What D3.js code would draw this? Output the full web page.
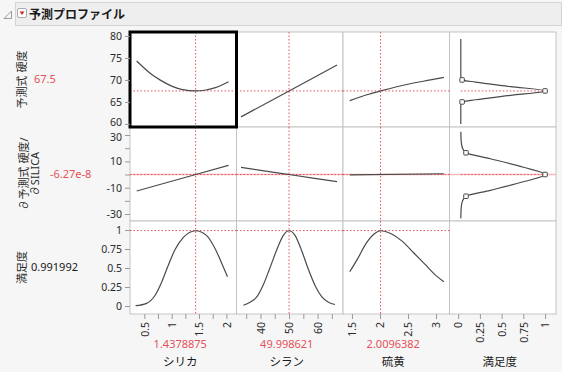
<!DOCTYPE html>
<html>
<head>
<meta charset="utf-8">
<script src="https://cdn.jsdelivr.net/npm/d3@7"></script>
<style>
  body { margin: 0; background: #f6f6f6; }
  svg { display: block; }
</style>
</head>
<body>
<script>
// factors and current settings
const factors = ['シリカ', 'シラン', '硫黄', '満足度']
const current = [1.4378875, 49.998621, 2.0096382]
const currentLabels = ['1.4378875', '49.998621', '2.0096382']

// responses (rows)
const rowTitles = [['予測式 硬度'], ['∂予測式 硬度/', '∂SILICA'], ['満足度']]
const rowValues = [67.5, 0, 0.991992]
const rowValueLabels = ['67.5', '-6.27e-8', '0.991992']

// axis ticks
const xTicks = [[0.5, 1, 1.5, 2], [40, 50, 60], [1.5, 2, 2.5, 3], [0, 0.25, 0.5, 0.75, 1]]
const xMinor = [[0.75, 1.25, 1.75], [35, 45, 55, 65], [], []]
const yTicks = [[60, 65, 70, 75, 80], [-30, -10, 10, 30], [0, 0.25, 0.5, 0.75, 1]]
const yMinor = [[], [-20, 0, 20], []]
const xDomains = [[0.238, 2.185], [31.6, 68.9], [1.34, 3.24], [-0.1, 1.126]]
const yDomains = [[59.3, 80.9], [-35.3, 36.1], [-0.105, 1.118]]

// profile traces: [factor, response]
const hardSilica = [[0.36, 74.3], [0.6, 71.6], [0.8, 69.9], [1.0, 68.6], [1.2, 67.8], [1.44, 67.5], [1.6, 67.65], [1.8, 68.25], [2.04, 69.6]]
const hardSilane = [[33.2, 61.6], [50, 67.5], [66.8, 73.4]]
const hardSulfur = [[1.46, 65.3], [1.8, 66.75], [2.01, 67.5], [2.3, 68.45], [2.6, 69.3], [2.9, 70.0], [3.14, 70.6]]
const derivSilica = [[0.36, -12.5], [1.44, 0], [2.04, 7.0]]
const derivSilane = [[33.2, 5.4], [50, 0], [66.8, -5.4]]
const derivSulfur = [[1.46, -0.3], [3.14, 0.6]]
const desSilica = [[0.34, 0.004], [0.54, 0.035], [0.7, 0.145], [0.82, 0.32], [0.94, 0.54], [1.06, 0.74], [1.21, 0.9], [1.44, 0.99], [1.64, 0.925], [1.79, 0.76], [1.94, 0.52], [2.02, 0.385]]
const desSilane = [[34.0, 0.01], [36.3, 0.05], [38.7, 0.12], [41.0, 0.28], [43.3, 0.5], [45.7, 0.74], [48.0, 0.93], [50, 0.99], [52.1, 0.93], [54.5, 0.72], [56.8, 0.48], [59.1, 0.27], [61.5, 0.12], [63.8, 0.05], [66.1, 0.02]]
const desSulfur = [[1.46, 0.45], [1.6, 0.62], [1.75, 0.82], [1.9, 0.95], [2.01, 0.99], [2.2, 0.95], [2.4, 0.85], [2.6, 0.7], [2.8, 0.55], [3.0, 0.4], [3.14, 0.32]]

// desirability functions: [response, desirability]
const desHard = [[60.0, 0.03], [64.3, 0.03], [64.8, 0.035], [65.0, 0.045], [65.5, 0.2], [66.5, 0.6], [67.5, 1.0], [68.5, 0.6], [69.5, 0.2], [70.0, 0.045], [70.2, 0.035], [70.7, 0.03], [79.3, 0.03]]
const hardMarkers = [[65.0, 0.045], [67.5, 1.0], [70.0, 0.045]]
const desDeriv = [[-33.3, 0.03], [-25, 0.035], [-20, 0.05], [-16.5, 0.09], [-12, 0.37], [-5.5, 0.75], [0, 1.0], [5.5, 0.75], [12, 0.37], [16.5, 0.09], [20, 0.05], [25, 0.035], [32.5, 0.03]]
const derivMarkers = [[-16.5, 0.09], [0, 1.0], [16.5, 0.09]]

const profiles = [
  [hardSilica, hardSilane, hardSulfur],
  [derivSilica, derivSilane, derivSulfur],
  [desSilica, desSilane, desSulfur]
]
const desFunctions = [desHard, desDeriv]
const desMarkers = [hardMarkers, derivMarkers]

const FONT = '"Noto Sans", "Noto Sans CJK JP", sans-serif'
const RED = '#e4515a'
const width = 562
const height = 372
const colEdges = [130, 236.5, 343, 449.5, 556]
const rowEdges = [32, 127, 221, 314]

const svg = d3.select('body').append('svg')
  .attr('width', width)
  .attr('height', height)
  .style('font-family', FONT)

svg.append('rect')
  .attr('width', width).attr('height', height)
  .attr('fill', '#f6f6f6')

// header bar
svg.append('rect')
  .attr('x', 15.5).attr('y', 2.5)
  .attr('width', 546).attr('height', 23)
  .attr('fill', '#eeeeee')
  .attr('stroke', '#d4d4d4')
svg.append('path')
  .attr('d', 'M4,18.5 L11.5,18.5 L11.5,11 Z')
  .attr('fill', 'none')
  .attr('stroke', '#999')
svg.append('rect')
  .attr('x', 17.5).attr('y', 8.5)
  .attr('width', 9).attr('height', 9).attr('rx', 1.5)
  .attr('fill', '#fff')
  .attr('stroke', '#aaa')
svg.append('path')
  .attr('d', 'M19.5,11.5 L24.5,11.5 L22,15 Z')
  .attr('fill', '#d42a2a')
svg.append('text')
  .attr('x', 29).attr('y', 19)
  .attr('font-size', 12)
  .attr('font-weight', 'bold')
  .attr('fill', '#1a1a1a')
  .text('予測プロファイル')

const xScales = xDomains.map((dom, c) => d3.scaleLinear().domain(dom).range([colEdges[c], colEdges[c + 1]]))
const yScales = yDomains.map((dom, r) => d3.scaleLinear().domain(dom).range([rowEdges[r + 1], rowEdges[r]]))

// cells
for (let r = 0; r < 3; r++) {
  for (let c = 0; c < 4; c++) {
    svg.append('rect')
      .attr('x', colEdges[c]).attr('y', rowEdges[r])
      .attr('width', colEdges[c + 1] - colEdges[c])
      .attr('height', rowEdges[r + 1] - rowEdges[r])
      .attr('fill', '#fff')
      .attr('stroke', '#c4c4c4')
  }
}

// zero line of the derivative row
svg.append('line')
  .attr('x1', colEdges[0]).attr('x2', colEdges[4])
  .attr('y1', yScales[1](0)).attr('y2', yScales[1](0))
  .attr('stroke', '#f7b9bd')
  .attr('stroke-width', 1.5)

// current value guides
const dotted = (sel) => sel.attr('stroke', RED).attr('stroke-width', 1).attr('stroke-dasharray', '1.5,2')
for (let r = 0; r < 3; r++) {
  for (let c = 0; c < 3; c++) {
    const x = xScales[c], y = yScales[r]
    svg.append('line')
      .attr('x1', x(current[c])).attr('x2', x(current[c]))
      .attr('y1', rowEdges[r]).attr('y2', rowEdges[r + 1])
      .call(dotted)
    svg.append('line')
      .attr('x1', colEdges[c]).attr('x2', colEdges[c + 1])
      .attr('y1', y(rowValues[r])).attr('y2', y(rowValues[r]))
      .call(dotted)
  }
}
for (let r = 0; r < 2; r++) {
  svg.append('line')
    .attr('x1', xScales[3](0.03)).attr('x2', xScales[3](1))
    .attr('y1', yScales[r](rowValues[r])).attr('y2', yScales[r](rowValues[r]))
    .call(dotted)
}

// profile traces
for (let r = 0; r < 3; r++) {
  for (let c = 0; c < 3; c++) {
    const line = d3.line()
      .x((d) => xScales[c](d[0]))
      .y((d) => yScales[r](d[1]))
      .curve(d3.curveMonotoneX)
    svg.append('path')
      .datum(profiles[r][c])
      .attr('d', line)
      .attr('fill', 'none')
      .attr('stroke', '#4a4a4a')
      .attr('stroke-width', 1.2)
  }
}

// desirability functions
for (let r = 0; r < 2; r++) {
  const line = d3.line()
    .x((d) => xScales[3](d[1]))
    .y((d) => yScales[r](d[0]))
    .curve(d3.curveMonotoneY)
  const pts = desFunctions[r].slice().sort((a, b) => b[0] - a[0])
  svg.append('path')
    .datum(pts)
    .attr('d', line)
    .attr('fill', 'none')
    .attr('stroke', '#4a4a4a')
    .attr('stroke-width', 1.2)
  svg.selectAll(null).data(desMarkers[r])
    .enter().append('rect')
      .attr('x', (d) => xScales[3](d[1]) - 2.25)
      .attr('y', (d) => yScales[r](d[0]) - 2.25)
      .attr('width', 4.5).attr('height', 4.5).attr('rx', 0.7)
      .attr('fill', '#fff')
      .attr('stroke', '#444')
      .attr('stroke-width', 1)
}

// selected cell
svg.append('rect')
  .attr('x', colEdges[0]).attr('y', rowEdges[0])
  .attr('width', colEdges[1] - colEdges[0])
  .attr('height', rowEdges[1] - rowEdges[0])
  .attr('fill', 'none')
  .attr('stroke', '#000')
  .attr('stroke-width', 3)

const styleAxis = (g) => {
  g.select('.domain').remove()
  g.attr('font-family', FONT).attr('font-size', 10.5)
  g.selectAll('line').attr('stroke', '#9a9a9a')
  g.selectAll('text').attr('fill', '#2b2b2b')
}

// y axes; the labels next to a row border are nudged apart a little
const yNudge = [(d) => d === 60 ? -1.8 : 0, (d) => d === 30 ? 1.8 : 0, () => 0]
for (let r = 0; r < 3; r++) {
  svg.append('g')
    .attr('transform', `translate(${colEdges[0]},0)`)
    .call(d3.axisLeft(yScales[r]).tickValues(yTicks[r]).tickSize(5).tickPadding(3).tickFormat(String))
    .call(styleAxis)
    .selectAll('text')
      .attr('y', yNudge[r])
  svg.append('g')
    .attr('transform', `translate(${colEdges[0]},0)`)
    .call(d3.axisLeft(yScales[r]).tickValues(yMinor[r]).tickSize(5).tickFormat(''))
    .call(styleAxis)
}

// x axes with rotated labels
for (let c = 0; c < 4; c++) {
  svg.append('g')
    .attr('transform', `translate(0,${rowEdges[3]})`)
    .call(d3.axisBottom(xScales[c]).tickValues(xTicks[c]).tickSize(5).tickFormat(String))
    .call(styleAxis)
    .selectAll('text')
      .attr('transform', 'rotate(-90)')
      .attr('text-anchor', 'end')
      .attr('x', -8)
      .attr('y', 0)
      .attr('dy', '0.35em')
  svg.append('g')
    .attr('transform', `translate(0,${rowEdges[3]})`)
    .call(d3.axisBottom(xScales[c]).tickValues(xMinor[c]).tickSize(5).tickFormat(''))
    .call(styleAxis)
}

// factor values and names
const colCenter = (c) => (colEdges[c] + colEdges[c + 1]) / 2 - 3
svg.selectAll('.factor-value').data(currentLabels)
  .enter().append('text')
    .attr('x', (d, i) => colCenter(i))
    .attr('y', 348)
    .attr('text-anchor', 'middle')
    .attr('font-size', 11)
    .attr('fill', RED)
    .text((d) => d)
svg.selectAll('.factor-name').data(factors)
  .enter().append('text')
    .attr('x', (d, i) => colCenter(i))
    .attr('y', 366)
    .attr('text-anchor', 'middle')
    .attr('font-size', 11.5)
    .attr('fill', '#1a1a1a')
    .text((d) => d)

// row titles and values
const titleX = [[22], [24, 35], [22]]
const valueX = [34, 50, 31]
for (let r = 0; r < 3; r++) {
  const cy = (rowEdges[r] + rowEdges[r + 1]) / 2
  rowTitles[r].forEach((t, i) => {
    svg.append('text')
      .attr('transform', `translate(${titleX[r][i]},${cy}) rotate(-90)`)
      .attr('text-anchor', 'middle')
      .attr('dy', '0.35em')
      .attr('font-size', 11)
      .attr('fill', '#2b2b2b')
      .text(t)
  })
  svg.append('text')
    .attr('x', valueX[r])
    .attr('y', cy)
    .attr('dy', '0.35em')
    .attr('font-size', 11)
    .attr('fill', r === 2 ? '#1a1a1a' : RED)
    .text(rowValueLabels[r])
}
</script>
</body>
</html>
